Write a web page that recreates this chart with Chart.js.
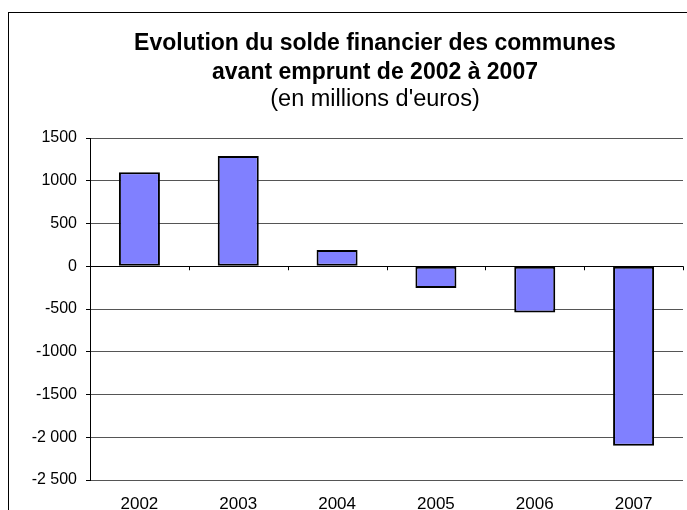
<!DOCTYPE html>
<html>
<head>
<meta charset="utf-8">
<script src="https://cdn.jsdelivr.net/npm/chart.js@4/dist/chart.umd.min.js"></script>
<style>
  html, body { margin: 0; padding: 0; background: #fff; overflow: hidden; }
  #frame { position: absolute; left: 8px; top: 12px; width: 732px; height: 520px; border: 1px solid #000; }
  #chartDiv { display: block; }
</style>
</head>
<body>
<div id="frame"><canvas id="chartDiv" width="732" height="497"></canvas></div>
<script>
var years = ["2002", "2003", "2004", "2005", "2006", "2007"];
var solde = [1100, 1290, 190, -255, -540, -2100];
var yTickValues = [1500, 1000, 500, 0, -500, -1000, -1500, -2000, -2500];
var yTickLabels = ["1500", "1000", "500", "0", "-500", "-1000", "-1500", "-2 000", "-2 500"];

// little tick marks on the zero line between categories
var zeroTicks = {
	id: 'zeroTicks',
	afterDatasetsDraw: function(chart) {
		var ctx = chart.ctx;
		var x = chart.scales.x;
		var y0 = chart.scales.y.getPixelForValue(0);
		ctx.save();
		ctx.strokeStyle = '#000';
		ctx.lineWidth = 1;
		ctx.beginPath();
		for (var i = 1; i <= years.length; i++) {
			var px = Math.round(x.getPixelForValue(i - 0.5)) + 0.5;
			ctx.moveTo(px, y0);
			ctx.lineTo(px, y0 + 4);
		}
		ctx.stroke();
		ctx.restore();
	}
};

var chart = new Chart(document.getElementById('chartDiv'), {
	type: 'bar',
	data: {
		labels: years,
		datasets: [{
			data: solde,
			backgroundColor: '#8080FF',
			borderColor: '#000',
			borderWidth: 2,
			borderSkipped: false,
			barPercentage: 0.415,
			categoryPercentage: 1
		}]
	},
	options: {
		responsive: false,
		animation: false,
		layout: { padding: 0 },
		plugins: {
			legend: { display: false },
			tooltip: { enabled: false },
			title: {
				display: true,
				text: ['Evolution du solde financier des communes', 'avant emprunt de 2002 à 2007'],
				color: '#000',
				font: { family: 'Liberation Sans, Arial, sans-serif', size: 23, weight: 'bold', lineHeight: '29px' },
				padding: { top: 16, bottom: 0 }
			},
			subtitle: {
				display: true,
				text: "(en millions d'euros)",
				color: '#000',
				font: { family: 'Liberation Sans, Arial, sans-serif', size: 23.5, weight: 'normal', lineHeight: '26px' },
				padding: { top: 0, bottom: 25 }
			}
		},
		scales: {
			x: {
				grid: { display: false },
				border: { display: false },
				ticks: {
					color: '#000',
					padding: 6,
					font: { family: 'Liberation Sans, Arial, sans-serif', size: 17 }
				},
				afterFit: function(s) { s.height = 30; }
			},
			y: {
				min: -2500,
				max: 1500,
				afterBuildTicks: function(s) {
					s.ticks = yTickValues.map(function(v) { return { value: v }; });
				},
				grid: {
					color: function(c) { return c.tick && c.tick.value === 0 ? '#000' : '#555'; },
					tickColor: '#000',
					tickLength: 4
				},
				border: { display: true, color: '#000', width: 1 },
				ticks: {
					color: '#000',
					padding: 9,
					font: { family: 'Liberation Sans, Arial, sans-serif', size: 16 },
					callback: function(v) {
						var i = yTickValues.indexOf(v);
						return i >= 0 ? yTickLabels[i] : '';
					}
				},
				afterFit: function(s) { s.width = 81; }
			},
			// empty right-hand space, the frame goes on past the plot
			yRight: {
				position: 'right',
				grid: { display: false },
				border: { display: false },
				ticks: { display: false },
				afterFit: function(s) { s.width = 58; }
			}
		}
	},
	plugins: [zeroTicks]
});
</script>
</body>
</html>
